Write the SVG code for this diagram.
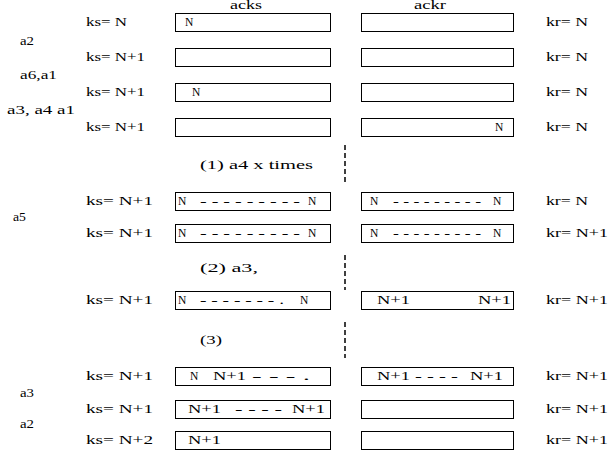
<svg xmlns="http://www.w3.org/2000/svg" width="608" height="458" viewBox="0 0 608 458">
<style>
text{font-family:"Liberation Serif","Times New Roman",serif;font-size:11.5px;fill:#000}
.box{fill:#fff;stroke:#000;stroke-width:1}
.vd{stroke:#000;stroke-width:1.5;stroke-dasharray:5,3;fill:none}
</style>
<rect width="608" height="458" fill="#fff"/>
<g id="headers">
<text x="230" y="9" textLength="32" lengthAdjust="spacingAndGlyphs">acks</text>
<text x="414" y="9" textLength="32" lengthAdjust="spacingAndGlyphs">ackr</text>
</g>
<g id="side-labels">
<text x="20" y="45" textLength="14" lengthAdjust="spacingAndGlyphs">a2</text>
<text x="20" y="79" textLength="37" lengthAdjust="spacingAndGlyphs">a6,a1</text>
<text x="7" y="114" textLength="68" lengthAdjust="spacingAndGlyphs">a3,  a4 a1</text>
<text x="13" y="221" textLength="13" lengthAdjust="spacingAndGlyphs">a5</text>
<text x="20" y="397" textLength="14" lengthAdjust="spacingAndGlyphs">a3</text>
<text x="20" y="428" textLength="14" lengthAdjust="spacingAndGlyphs">a2</text>
</g>
<g id="steps">
<text x="200" y="169" textLength="113" lengthAdjust="spacingAndGlyphs">(1)  a4 x times</text>
<text x="200" y="272" textLength="58" lengthAdjust="spacingAndGlyphs">(2)  a3,</text>
<text x="200" y="344" textLength="22" lengthAdjust="spacingAndGlyphs">(3)</text>
</g>
<g id="connectors">
<line class="vd" x1="345" y1="145" x2="345" y2="182"/>
<line class="vd" x1="345" y1="255" x2="345" y2="290"/>
<line class="vd" x1="345" y1="322" x2="345" y2="358"/>
</g>
<g id="row1">
<text x="86" y="26" textLength="41" lengthAdjust="spacingAndGlyphs">ks= N</text>
<rect class="box" x="175.5" y="13.5" width="155" height="18"/>
<text x="185" y="26">N</text>
<rect class="box" x="361.5" y="13.5" width="152" height="18"/>
<text x="546" y="26" textLength="42" lengthAdjust="spacingAndGlyphs">kr= N</text>
</g>
<g id="row2">
<text x="86" y="61" textLength="59" lengthAdjust="spacingAndGlyphs">ks= N+1</text>
<rect class="box" x="175.5" y="48.5" width="155" height="18"/>
<rect class="box" x="361.5" y="48.5" width="152" height="18"/>
<text x="546" y="61" textLength="42" lengthAdjust="spacingAndGlyphs">kr= N</text>
</g>
<g id="row3">
<text x="86" y="96" textLength="59" lengthAdjust="spacingAndGlyphs">ks= N+1</text>
<rect class="box" x="175.5" y="83.5" width="155" height="18"/>
<text x="192" y="96">N</text>
<rect class="box" x="361.5" y="83.5" width="152" height="18"/>
<text x="546" y="96" textLength="42" lengthAdjust="spacingAndGlyphs">kr= N</text>
</g>
<g id="row4">
<text x="86" y="131" textLength="59" lengthAdjust="spacingAndGlyphs">ks= N+1</text>
<rect class="box" x="175.5" y="118.5" width="155" height="18"/>
<rect class="box" x="361.5" y="118.5" width="152" height="18"/>
<text x="495" y="131">N</text>
<text x="546" y="131" textLength="42" lengthAdjust="spacingAndGlyphs">kr= N</text>
</g>
<g id="row5">
<text x="86" y="205" textLength="67" lengthAdjust="spacingAndGlyphs">ks=  N+1</text>
<rect class="box" x="175.5" y="192.5" width="155" height="18"/>
<text x="178" y="205">N</text>
<text x="200" y="205" textLength="100" lengthAdjust="spacingAndGlyphs">- - - - - - - - -</text>
<text x="308" y="205">N</text>
<rect class="box" x="361.5" y="192.5" width="152" height="18"/>
<text x="370" y="205">N</text>
<text x="393" y="205" textLength="88" lengthAdjust="spacingAndGlyphs">- - - - - - - - -</text>
<text x="493" y="205">N</text>
<text x="546" y="205" textLength="42" lengthAdjust="spacingAndGlyphs">kr= N</text>
</g>
<g id="row6">
<text x="86" y="237" textLength="67" lengthAdjust="spacingAndGlyphs">ks=  N+1</text>
<rect class="box" x="175.5" y="224.5" width="155" height="18"/>
<text x="178" y="237">N</text>
<text x="200" y="237" textLength="100" lengthAdjust="spacingAndGlyphs">- - - - - - - - -</text>
<text x="308" y="237">N</text>
<rect class="box" x="361.5" y="224.5" width="152" height="18"/>
<text x="370" y="237">N</text>
<text x="393" y="237" textLength="88" lengthAdjust="spacingAndGlyphs">- - - - - - - - -</text>
<text x="493" y="237">N</text>
<text x="546" y="237" textLength="62" lengthAdjust="spacingAndGlyphs">kr= N+1</text>
</g>
<g id="row7">
<text x="86" y="304" textLength="67" lengthAdjust="spacingAndGlyphs">ks=  N+1</text>
<rect class="box" x="175.5" y="291.5" width="155" height="18"/>
<text x="178" y="304">N</text>
<text x="200" y="304" textLength="84" lengthAdjust="spacingAndGlyphs">- - - - - - - .</text>
<text x="300" y="304">N</text>
<rect class="box" x="361.5" y="291.5" width="152" height="18"/>
<text x="377" y="304" textLength="33" lengthAdjust="spacingAndGlyphs">N+1</text>
<text x="478" y="304" textLength="33" lengthAdjust="spacingAndGlyphs">N+1</text>
<text x="546" y="304" textLength="62" lengthAdjust="spacingAndGlyphs">kr= N+1</text>
</g>
<g id="row8">
<text x="86" y="380" textLength="67" lengthAdjust="spacingAndGlyphs">ks=  N+1</text>
<rect class="box" x="175.5" y="367.5" width="155" height="18"/>
<text x="190" y="380">N</text>
<text x="213" y="380" textLength="33" lengthAdjust="spacingAndGlyphs">N+1</text>
<text x="252" y="380" textLength="58" lengthAdjust="spacingAndGlyphs">- - - .</text>
<rect class="box" x="361.5" y="367.5" width="152" height="18"/>
<text x="377" y="380" textLength="33" lengthAdjust="spacingAndGlyphs">N+1</text>
<text x="415" y="380" textLength="43" lengthAdjust="spacingAndGlyphs">- - - -</text>
<text x="470" y="380" textLength="33" lengthAdjust="spacingAndGlyphs">N+1</text>
<text x="546" y="380" textLength="62" lengthAdjust="spacingAndGlyphs">kr= N+1</text>
</g>
<g id="row9">
<text x="86" y="413" textLength="67" lengthAdjust="spacingAndGlyphs">ks=  N+1</text>
<rect class="box" x="175.5" y="400.5" width="155" height="18"/>
<text x="188" y="413" textLength="33" lengthAdjust="spacingAndGlyphs">N+1</text>
<text x="235" y="413" textLength="47" lengthAdjust="spacingAndGlyphs">- - - -</text>
<text x="292" y="413" textLength="33" lengthAdjust="spacingAndGlyphs">N+1</text>
<rect class="box" x="361.5" y="400.5" width="152" height="18"/>
<text x="546" y="413" textLength="62" lengthAdjust="spacingAndGlyphs">kr= N+1</text>
</g>
<g id="row10">
<text x="86" y="444" textLength="67" lengthAdjust="spacingAndGlyphs">ks=  N+2</text>
<rect class="box" x="175.5" y="431.5" width="155" height="18"/>
<text x="188" y="444" textLength="33" lengthAdjust="spacingAndGlyphs">N+1</text>
<rect class="box" x="361.5" y="431.5" width="152" height="18"/>
<text x="546" y="444" textLength="62" lengthAdjust="spacingAndGlyphs">kr= N+1</text>
</g>
</svg>
